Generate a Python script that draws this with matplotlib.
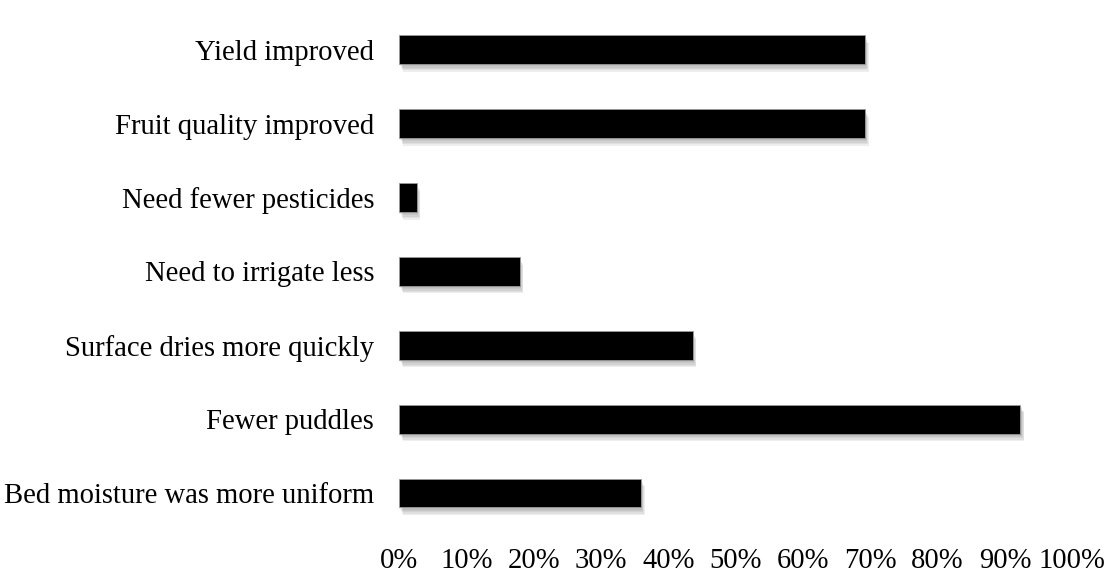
import numpy as np
import matplotlib
matplotlib.use('Agg')
import matplotlib.pyplot as plt
import matplotlib.patheffects as pe
from matplotlib.ticker import FuncFormatter

categories = ['Yield improved', 'Fruit quality improved', 'Need fewer pesticides',
              'Need to irrigate less', 'Surface dries more quickly', 'Fewer puddles',
              'Bed moisture was more uniform']
percent = [69.2, 69.2, 2.6, 17.9, 43.6, 92.3, 35.9]
xticks = [0, 10, 20, 30, 40, 50, 60, 70, 80, 90, 100]

plt.rcParams['font.family'] = ['Liberation Serif', 'DejaVu Serif']

fig = plt.figure(figsize=(11.1, 5.78), dpi=100)
ax = fig.add_axes([0.3595, 0.083, 0.6065, 0.895])

y = np.arange(len(categories))
# soft drop shadow, a few layers to fake a blur
shadow = [pe.SimplePatchShadow(offset=(0.8 + i * 0.5, -1.5 - i * 1.0), shadow_rgbFace='#808080', alpha=0.13)
          for i in range(5)]
ax.barh(y, percent, height=0.39, color='black', edgecolor='#9a9a9a', linewidth=0.6,
        path_effects=shadow + [pe.Normal()])

ax.set_yticks(y)
ax.set_yticklabels(categories, fontsize=20.6)
ax.set_ylim(len(categories) - 0.5, -0.5)
ax.set_xlim(0, 100)
ax.set_xticks(xticks)
ax.xaxis.set_major_formatter(FuncFormatter(lambda v, p: f'{v:.0f}%'))
ax.tick_params(axis='x', labelsize=20.6, length=0, pad=13)
ax.tick_params(axis='y', length=0, pad=18)
for s in ax.spines.values():
    s.set_visible(False)

plt.savefig('out.png', dpi=100)
